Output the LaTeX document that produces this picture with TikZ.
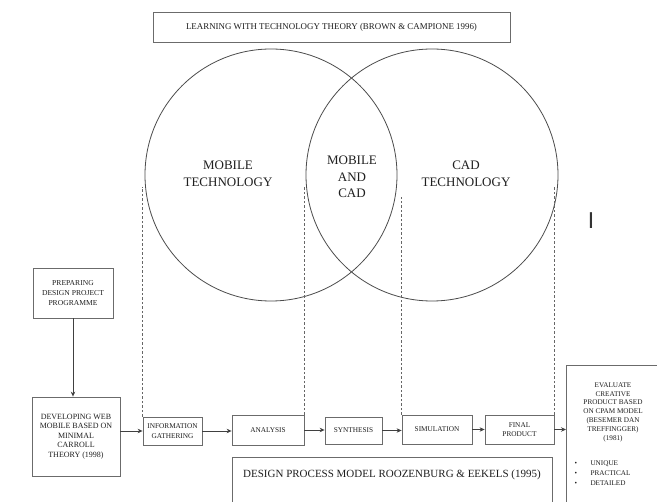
\documentclass[tikz,border=0pt]{standalone}
\usepackage{fontspec}
\setmainfont{Liberation Serif}
\newfontfamily\barfont{Liberation Sans}
\usetikzlibrary{arrows.meta}
\definecolor{edge}{gray}{0.42}
\definecolor{ink}{gray}{0.12}
\tikzset{
  box/.style={draw=edge, line width=0.8pt, inner sep=1pt, align=center, text=ink,
    font=\fontsize{7.3}{9.5}\selectfont},
  ring/.style={draw=black!70, line width=0.8pt, circle, minimum size=252pt, inner sep=0pt},
  bigtxt/.style={align=center, text=ink, font=\fontsize{13}{16.5}\selectfont},
  guide/.style={draw=black!60, dashed, dash pattern=on 2.5pt off 2pt, line width=0.6pt},
  arr/.style={draw=black!75, line width=0.7pt, -{Stealth[length=5pt,width=4.5pt]}}
}
\begin{document}
\begin{tikzpicture}[x=1pt,y=-1pt]
\useasboundingbox (0,0) rectangle (657,502);
\clip (0,0) rectangle (657,502);
\fill[white] (0,0) rectangle (657,502);

% title box
\node[box, minimum width=357pt, minimum height=30pt, font=\fontsize{8.9}{10}\selectfont] (title) at (331.5,27) {LEARNING WITH TECHNOLOGY THEORY (BROWN \& CAMPIONE 1996)};

% circles
\node[ring] (lc) at (271,175) {};
\node[ring] (rc) at (432,175) {};
\node[bigtxt] (mobtxt) at (228,174) {MOBILE\\TECHNOLOGY};
\node[bigtxt] (bothtxt) at (352,177) {MOBILE\\AND\\CAD};
\node[bigtxt] (cadtxt) at (466,174) {CAD\\TECHNOLOGY};

% stray mark
\node[text=black!80, font=\barfont\fontsize{23}{23}\selectfont, inner sep=0pt] (mark) at (591,221) {I};

% left boxes
\node[box, minimum width=80pt, minimum height=50pt, font=\fontsize{7.6}{10}\selectfont] (prep) at (73,293) {PREPARING\\DESIGN PROJECT\\PROGRAMME};
\node[box, minimum width=88pt, minimum height=79pt, font=\fontsize{8}{9.6}\selectfont] (dev) at (76,436.5) {DEVELOPING WEB\\MOBILE BASED ON\\MINIMAL\\CARROLL\\THEORY (1998)};

% process boxes
\node[box, minimum width=59pt, minimum height=28pt] (info) at (172.5,431) {INFORMATION\\GATHERING};
\node[box, minimum width=72pt, minimum height=30pt] (anal) at (268,430) {ANALYSIS};
\node[box, minimum width=57pt, minimum height=27pt] (synth) at (353.5,430.5) {SYNTHESIS};
\node[box, minimum width=70pt, minimum height=29pt] (sim) at (437,429.5) {SIMULATION};
\node[box, minimum width=69pt, minimum height=29pt] (final) at (519.5,429.5) {FINAL\\PRODUCT};

% evaluation box
\node[box, minimum width=94pt, minimum height=147pt, anchor=north west] (eval) at (566,365) {};
\node[align=center, text=ink, font=\fontsize{7.2}{8.8}\selectfont, anchor=north] (evaltxt) at (613,379) {EVALUATE\\CREATIVE\\PRODUCT BASED\\ON CPAM MODEL\\(BESEMER DAN\\TREFFINGGER)\\(1981)};
\node[align=left, text=ink, font=\fontsize{7.2}{10}\selectfont, anchor=north west] (evallist) at (571,457) {\makebox[16pt][l]{•}UNIQUE\\\makebox[16pt][l]{•}PRACTICAL\\\makebox[16pt][l]{•}DETAILED};

% design process box
\node[box, minimum width=320pt, minimum height=60pt, anchor=north west] (design) at (232,457) {};
\node[text=ink, font=\fontsize{11}{12}\selectfont] (designtxt) at (392,475) {DESIGN PROCESS MODEL ROOZENBURG \& EEKELS (1995)};

% arrows
\draw[arr] (prep.south) -- (prep.south |- dev.north);
\draw[arr] (dev.east |- info.west) -- (info.west);
\draw[arr] (info.east) -- (info.east -| anal.west);
\draw[arr] (anal.east) -- (anal.east -| synth.west);
\draw[arr] (synth.east) -- (synth.east -| sim.west);
\draw[arr] (sim.east) -- (sim.east -| final.west);
\draw[arr] (final.east) -- (final.east -| eval.west);

% dashed guides
\draw[guide] (info.north west) -- ([yshift=-12pt]info.north west |- lc.west);
\draw[guide] (anal.north east) -- ([yshift=-12pt]anal.north east |- rc.west);
\draw[guide] (sim.north west) -- ([yshift=-22pt]sim.north west |- lc.east);
\draw[guide] (final.north east) -- ([yshift=-12pt]final.north east |- rc.east);
\end{tikzpicture}
\end{document}
